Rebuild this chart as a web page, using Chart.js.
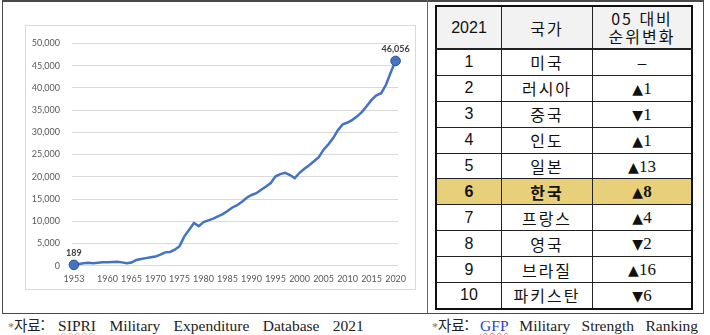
<!DOCTYPE html>
<html lang="ko">
<head>
<meta charset="utf-8">
<script src="https://cdn.jsdelivr.net/npm/chart.js@4/dist/chart.umd.min.js"></script>
<style>
  html, body { margin: 0; padding: 0; background: #fff; }
  body { width: 710px; height: 335px; position: relative; overflow: hidden; }
  .frame {
    position: absolute; left: 2px; top: 0; width: 700px; height: 311px;
    border: 1px solid #4a4a4a; border-top: 2px solid #4a4a4a;
  }
  .divider { position: absolute; left: 427px; top: 0; width: 1px; height: 313px; background: #6a6a6a; }
  .chart-box {
    position: absolute; left: 25px; top: 25px; width: 389px; height: 263px;
    border: 1px solid #d9d9d9;
  }
  .chart-box canvas { position: absolute; left: 0; top: 0; }
  table.rank {
    position: absolute; left: 435px; top: 5px; width: 258px;
    border-collapse: collapse; border: 2px solid #111;
    font-family: "Noto Sans CJK KR", sans-serif; color: #111;
  }
  table.rank td, table.rank th {
    border: 1.5px solid #222; text-align: center; padding: 0; height: 24.9px;
    font-weight: normal; font-size: 16px; line-height: 1;
  }
  table.rank th { background: #f2f2f2; height: 41px; border-bottom: 2.5px solid #222; }
  table.rank th.h-year { font-family: "Liberation Sans", sans-serif; font-size: 16px; }
  table.rank th.h-change { line-height: 1.12; letter-spacing: 2px; }
  table.rank td.rk { font-family: "Liberation Sans", sans-serif; font-size: 16px; width: 64px; }
  table.rank td.nm { letter-spacing: 2px; width: 90px; }
  table.rank td.ch { font-family: "Liberation Serif", "DejaVu Sans", serif; font-size: 17px; }
  table.rank td.ch .tri { font-family: "DejaVu Sans", sans-serif; font-size: 14px; }
  table.rank tr.hl td { background: #e8d07a; font-weight: bold; }
  .src {
    position: absolute; top: 314px; font-family: "Liberation Serif", serif; font-size: 15.5px;
    color: #222; white-space: nowrap;
  }
  .src .ko { font-family: "Noto Sans CJK KR", sans-serif; font-size: 14.5px; word-spacing: 0; }
  .src .star { color: #777; font-size: 12px; }
  .src .wavy { text-decoration: underline wavy #eab088; text-decoration-thickness: 1px; }
  .src .gfp { color: #2f3fd0; text-decoration: underline wavy #e07070; text-decoration-thickness: 1px; }
</style>
</head>
<body>
<div class="frame"></div>
<div class="divider"></div>
<div class="chart-box"><canvas id="defense" width="389" height="263"></canvas></div>
<table class="rank" id="rankTable"></table>
<div class="src" style="left:8px; word-spacing:9.5px"><span class="star">*</span><span class="ko">자료:</span> <span class="wavy">SIPRI</span> Military Expenditure Database 2021</div>
<div class="src" style="left:432px; word-spacing:7.5px"><span class="star">*</span><span class="ko">자료:</span> <span class="gfp">GFP</span> Military Strength Ranking</div>

<script>
// Korea military expenditure, 1953-2020 (SIPRI)
const years = Array.from({ length: 68 }, (_, i) => 1953 + i);
const spending = [
  189, 400, 550, 650, 560, 650, 750, 800, 850, 900,          // 1953-1962
  750, 550, 700, 1300, 1500, 1700, 1900, 2050, 2500, 3000,   // 1963-1972
  3100, 3600, 4400, 6600, 8100, 9600, 8900, 9800, 10200, 10600, // 1973-1982
  11100, 11600, 12300, 13100, 13600, 14400, 15300, 15900, 16300, 17100, // 1983-1992
  17800, 18600, 20100, 20600, 20900, 20400, 19700, 20900, 21800, 22600, // 1993-2002
  23500, 24400, 26100, 27300, 28700, 30500, 31800, 32200, 32800, 33600, // 2003-2012
  34600, 35900, 37300, 38300, 38800, 40700, 43500, 46056     // 2013-2020
];
const xTickYears = [1953, 1960, 1965, 1970, 1975, 1980, 1985, 1990, 1995, 2000, 2005, 2010, 2015, 2020];
const labeledPoints = [0, spending.length - 1];

// GFP ranking table
const ranks = [1, 2, 3, 4, 5, 6, 7, 8, 9, 10];
const countries = ['미국', '러시아', '중국', '인도', '일본', '한국', '프랑스', '영국', '브라질', '파키스탄'];
const rankChange = [0, 1, -1, 1, 13, 8, 4, -2, 16, -6];
const highlightCountry = '한국';

const table = document.getElementById('rankTable');
table.innerHTML = '<tr><th class="h-year">2021</th><th style="letter-spacing:2px">국가</th>' +
  '<th class="h-change">05 대비<br>순위변화</th></tr>';
ranks.forEach((r, i) => {
  const d = rankChange[i];
  let change = '–';
  if (d > 0) change = '<span class="tri">▲</span>' + d;
  if (d < 0) change = '<span class="tri">▼</span>' + (-d);
  const cls = countries[i] === highlightCountry ? ' class="hl"' : '';
  table.insertAdjacentHTML('beforeend',
    `<tr${cls}><td class="rk">${r}</td><td class="nm">${countries[i]}</td><td class="ch">${change}</td></tr>`);
});

// draws the value above the first and last point
const endLabels = {
  id: 'endLabels',
  afterDatasetsDraw(chart) {
    const { ctx } = chart;
    const meta = chart.getDatasetMeta(0);
    ctx.save();
    ctx.font = 'bold 9px Lato';
    ctx.fillStyle = '#404040';
    ctx.textAlign = 'center';
    ctx.textBaseline = 'middle';
    labeledPoints.forEach(i => {
      const pt = meta.data[i];
      ctx.fillText(spending[i].toLocaleString('en-US'), pt.x, pt.y - 11.5);
    });
    ctx.restore();
  }
};

new Chart(document.getElementById('defense'), {
  type: 'line',
  data: {
    datasets: [{
      data: years.map((y, i) => ({ x: y, y: spending[i] })),
      borderColor: '#4472c4',
      borderWidth: 2.5,
      tension: 0,
      fill: false,
      clip: false,
      pointRadius: ctx => labeledPoints.includes(ctx.dataIndex) ? 4.8 : 0,
      pointBackgroundColor: '#4472c4',
      pointBorderColor: '#2f528f',
      pointBorderWidth: 1
    }]
  },
  options: {
    responsive: false,
    animation: false,
    devicePixelRatio: 1,
    layout: { padding: { top: 10.7, right: 17, bottom: 0, left: 0 } },
    plugins: { legend: { display: false }, tooltip: { enabled: false } },
    scales: {
      x: {
        type: 'linear',
        min: 1952.6,
        max: 2020.5,
        afterBuildTicks: s => { s.ticks = xTickYears.map(v => ({ value: v })); },
        afterFit: s => { s.height = 23.3; },
        ticks: {
          callback: v => String(v),
          font: { family: 'Lato', size: 9 },
          color: '#595959',
          padding: 8,
          maxRotation: 0,
          autoSkip: false
        },
        grid: { display: false, drawTicks: false },
        border: { display: false }
      },
      y: {
        min: 0,
        max: 50000,
        afterFit: s => { s.width = 46; },
        ticks: {
          stepSize: 5000,
          callback: v => v.toLocaleString('en-US'),
          font: { family: 'Lato', size: 9 },
          color: '#595959',
          padding: 12
        },
        grid: { color: '#d9d9d9', drawTicks: false },
        border: { display: false }
      }
    }
  },
  plugins: [endLabels]
});
</script>
</body>
</html>
